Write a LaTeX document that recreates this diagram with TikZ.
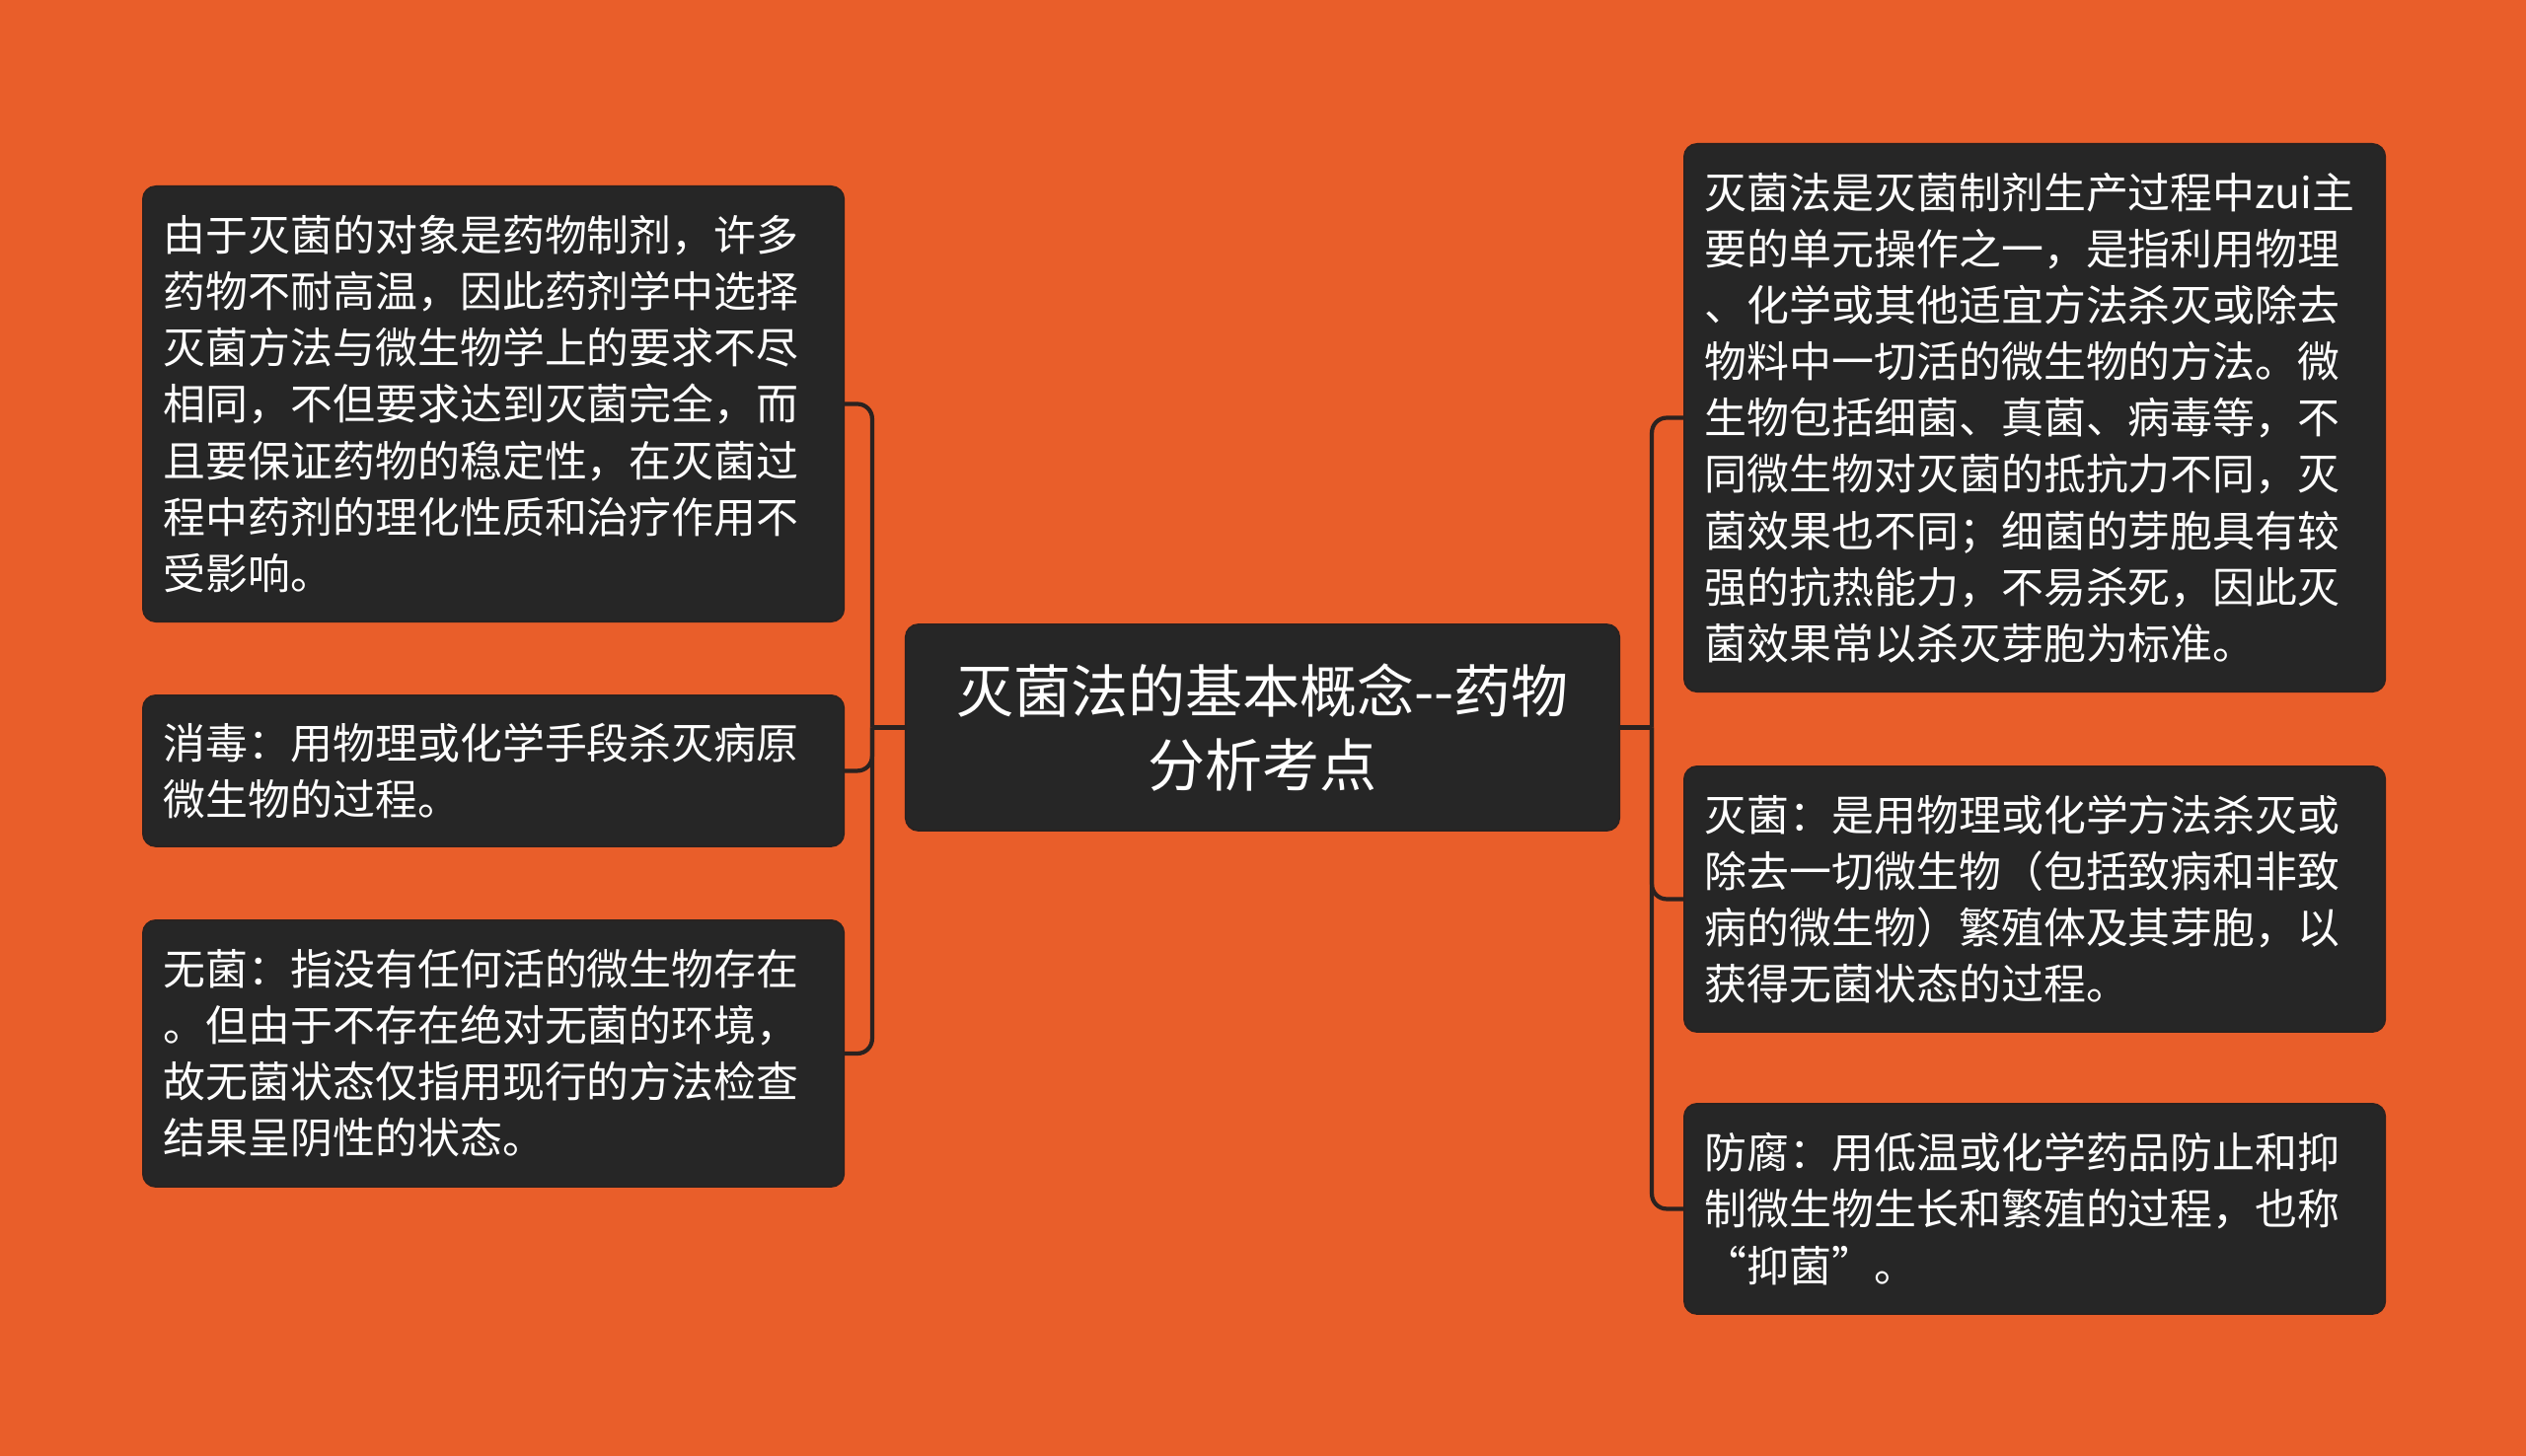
\documentclass[tikz,border=0pt]{standalone}
\usepackage{fontspec}
\setmainfont{Noto Sans CJK SC}
\usepackage{tikz}
\definecolor{bgorange}{HTML}{E95E2A}
\definecolor{boxdark}{HTML}{262626}
\definecolor{linedark}{HTML}{2A2220}
\tikzset{
  topic/.style = {rectangle, rounded corners=0.13cm, fill=boxdark, draw=linedark, line width=0.5pt, text=white, align=center, inner sep=0pt, minimum width=7.23cm, minimum height=2.09cm, font=\fontsize{16.5pt}{21.3pt}\selectfont},
  leaf/.style = {rectangle, rounded corners=0.13cm, fill=boxdark, draw=linedark, line width=0.5pt, text=white, align=left, anchor=north west, inner xsep=0.21cm, inner ysep=0pt, text width=6.68cm, minimum height=#1, font=\fontsize{12.2pt}{16.25pt}\selectfont},
  branch/.style = {draw=linedark, line width=1.2pt, rounded corners=0.15cm}
}

\begin{document}
\begin{tikzpicture}[x=0.01cm, y=-0.01cm]

\fill[bgorange] (0,0) rectangle (2560,1476);
\useasboundingbox (0,0) rectangle (2560,1476);

% -- topic
  \node[topic] (T) at (1279.5,737.5) {灭菌法的基本概念-{}-药物\\分析考点};

% -- left side
  \node[leaf=4.41cm] (A) at (144,188) {由于灭菌的对象是药物制剂，许多\\药物不耐高温，因此药剂学中选择\\灭菌方法与微生物学上的要求不尽\\相同，不但要求达到灭菌完全，而\\且要保证药物的稳定性，在灭菌过\\程中药剂的理化性质和治疗作用不\\受影响。};
  \node[leaf=1.53cm] (B) at (144,704) {消毒：用物理或化学手段杀灭病原\\微生物的过程。};
  \node[leaf=2.70cm] (D) at (144,932) {无菌：指没有任何活的微生物存在\\。但由于不存在绝对无菌的环境，\\故无菌状态仅指用现行的方法检查\\结果呈阴性的状态。};

% -- right side
  \node[leaf=5.55cm] (E) at (1706,145) {灭菌法是灭菌制剂生产过程中zui主\\要的单元操作之一，是指利用物理\\、化学或其他适宜方法杀灭或除去\\物料中一切活的微生物的方法。微\\生物包括细菌、真菌、病毒等，不\\同微生物对灭菌的抵抗力不同，灭\\菌效果也不同；细菌的芽胞具有较\\强的抗热能力，不易杀死，因此灭\\菌效果常以杀灭芽胞为标准。};
  \node[leaf=2.69cm] (F) at (1706,776) {灭菌：是用物理或化学方法杀灭或\\除去一切微生物（包括致病和非致\\病的微生物）繁殖体及其芽胞，以\\获得无菌状态的过程。};
  \node[leaf=2.13cm] (G) at (1706,1118) {防腐：用低温或化学药品防止和抑\\制微生物生长和繁殖的过程，也称\\“抑菌”。};

% -- connectors
  \path (T.west) ++(-33,0) coordinate (LJ);
  \path (T.east) ++(32,0) coordinate (RJ);
  \draw[branch] (T.west) -- (LJ);
  \draw[branch] (T.east) -- (RJ);
  \foreach \n in {A,B,D} {
    \draw[branch] (LJ) |- (\n.east);
  }
  \foreach \n in {E,F,G} {
    \draw[branch] (RJ) |- (\n.west);
  }

\end{tikzpicture}
\end{document}
